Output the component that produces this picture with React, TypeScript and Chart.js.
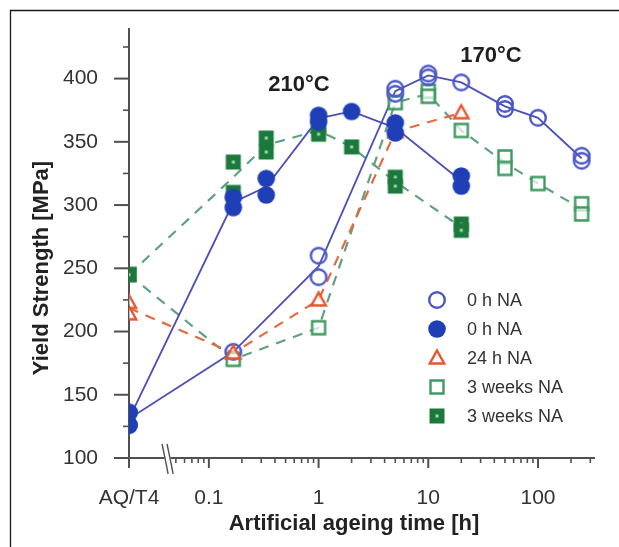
import React, { useEffect, useRef } from 'react';
import { Chart, registerables } from 'chart.js';

Chart.register(...registerables);

// ---------- data ----------
// position of the AQ/T4 state on the broken logarithmic time axis (h)
const AQ_T4 = 0.0187;
const X_MAX = 331;
const Y_MIN = 100;
const Y_MAX = 440;

const xTickValues = [AQ_T4, 0.1, 1, 10, 100];
const xTickLabels = ['AQ/T4', '0.1', '1', '10', '100'];
const xMinorTicks = [0.05, 0.06, 0.07, 0.08, 0.09, 0.2, 0.3, 0.4, 0.5, 0.6, 0.7, 0.8, 0.9,
  2, 3, 4, 5, 6, 7, 8, 9, 20, 30, 40, 50, 60, 70, 80, 90, 200, 300];
const yTickValues = [100, 150, 200, 250, 300, 350, 400];
const yMinorTicks = [125, 175, 225, 275, 325, 375, 425];
const X_BREAK = 0.042;

// 170 °C, 0 h NA (open circles)
const open0hX = [AQ_T4, AQ_T4, 0.167, 1, 1, 5, 5, 10, 10, 20, 50, 50, 100, 250, 250];
const open0hY = [136, 126, 184, 260, 243, 392, 388, 404, 401, 397, 380, 376, 369, 339, 335];

// 210 °C, 0 h NA (filled circles)
const filled0hX = [AQ_T4, AQ_T4, 0.167, 0.167, 0.333, 0.333, 1, 1, 2, 5, 5, 20, 20];
const filled0hY = [136, 126, 306, 298, 321, 308, 371, 366, 374, 365, 357, 323, 315];

// 170 °C, 24 h NA (open triangles)
const tri24hX = [AQ_T4, AQ_T4, 0.167, 1, 5, 20];
const tri24hY = [223, 214, 183, 225, 358, 373];

// 170 °C, 3 weeks NA (open squares)
const open3wX = [AQ_T4, 0.167, 1, 5, 10, 10, 20, 50, 50, 100, 250, 250];
const open3wY = [245, 178, 203, 381, 390, 386, 359, 338, 329, 317, 301, 293];

// 210 °C, 3 weeks NA (filled squares)
const filled3wX = [AQ_T4, 0.167, 0.167, 0.333, 0.333, 1, 1, 2, 5, 5, 20, 20];
const filled3wY = [245, 310, 334, 353, 342, 362, 356, 346, 322, 315, 285, 280];

const legendLabels = ['0 h NA', '0 h NA', '24 h NA', '3 weeks NA', '3 weeks NA'];

// ---------- styles ----------
const FONT = '"Liberation Sans", Arial, Helvetica, sans-serif';
const AXIS = '#505050';
const TEXT = '#333333';
const BLUE_OPEN = '#4a57c6';
const BLUE_FILL = '#1e3fb6';
const BLUE_LINE = '#4c4fb6';
const RED = '#e8552e';
const RED_LINE = '#e8683f';
const GREEN_OPEN = '#3f9a5e';
const GREEN_FILL = '#1b7a3b';
const GREEN_LINE = '#5fa184';

function pts(xs: number[], ys: number[]) {
  return xs.map((x, i) => ({ x, y: ys[i] }));
}

function meanLine(xs: number[], ys: number[]) {
  const m = new Map<number, number[]>();
  xs.forEach((x, i) => {
    if (!m.has(x)) m.set(x, []);
    m.get(x)!.push(ys[i]);
  });
  return [...m.entries()]
    .sort((a, b) => a[0] - b[0])
    .map(([x, v]) => ({ x, y: v.reduce((s, n) => s + n, 0) / v.length }));
}

function makeMarker(size: number, draw: (ctx: CanvasRenderingContext2D, c: number) => void) {
  const cv = document.createElement('canvas');
  cv.width = size;
  cv.height = size;
  const ctx = cv.getContext('2d')!;
  draw(ctx, size / 2);
  return cv;
}

function buildMarkers() {
  const openCircle = makeMarker(22, (ctx, c) => {
    ctx.strokeStyle = BLUE_OPEN;
    ctx.lineWidth = 2.4;
    ctx.beginPath();
    ctx.arc(c, c, 7.8, 0, Math.PI * 2);
    ctx.stroke();
  });
  const filledCircle = makeMarker(22, (ctx, c) => {
    ctx.fillStyle = BLUE_FILL;
    ctx.beginPath();
    ctx.arc(c, c, 8.8, 0, Math.PI * 2);
    ctx.fill();
  });
  const triangle = makeMarker(22, (ctx, c) => {
    ctx.strokeStyle = RED;
    ctx.fillStyle = 'rgba(255,255,255,0.6)';
    ctx.lineWidth = 2.4;
    ctx.beginPath();
    ctx.moveTo(c, c - 7.5);
    ctx.lineTo(c + 7.2, c + 5.5);
    ctx.lineTo(c - 7.2, c + 5.5);
    ctx.closePath();
    ctx.fill();
    ctx.stroke();
  });
  const openSquare = makeMarker(20, (ctx, c) => {
    ctx.strokeStyle = GREEN_OPEN;
    ctx.fillStyle = 'rgba(255,255,255,0.7)';
    ctx.lineWidth = 2.4;
    ctx.beginPath();
    ctx.rect(c - 6.5, c - 6.5, 13, 13);
    ctx.fill();
    ctx.stroke();
  });
  const filledSquare = makeMarker(20, (ctx, c) => {
    ctx.fillStyle = GREEN_FILL;
    ctx.fillRect(c - 7.5, c - 7.5, 15, 15);
    ctx.fillStyle = '#a9d6b1';
    ctx.fillRect(c - 1.5, c - 1.5, 3, 3);
  });
  return { openCircle, filledCircle, triangle, openSquare, filledSquare };
}

export default function App() {
  const ref = useRef<HTMLCanvasElement | null>(null);

  useEffect(() => {
    if (!ref.current) return;
    const mk = buildMarkers();
    const legendMarkers = [mk.openCircle, mk.filledCircle, mk.triangle, mk.openSquare, mk.filledSquare];

    const decor = {
      id: 'decor',
      beforeDatasetsDraw(chart: any) {
        const { ctx } = chart;
        const xs = chart.scales.x;
        const ys = chart.scales.y;
        const axisY = ys.getPixelForValue(Y_MIN);
        const axisX = xs.getPixelForValue(AQ_T4);
        ctx.save();
        // figure frame
        ctx.strokeStyle = '#1a1a1a';
        ctx.lineWidth = 1.3;
        ctx.beginPath();
        ctx.moveTo(10.5, 547);
        ctx.lineTo(10.5, 10.5);
        ctx.lineTo(619, 10.5);
        ctx.stroke();

        ctx.strokeStyle = AXIS;
        ctx.lineWidth = 2;
        ctx.lineCap = 'butt';
        // y axis (extends below as AQ/T4 tick)
        ctx.beginPath();
        ctx.moveTo(axisX, ys.getPixelForValue(Y_MAX));
        ctx.lineTo(axisX, axisY + 10);
        ctx.stroke();
        // x axis (extends left as 100 tick)
        ctx.beginPath();
        ctx.moveTo(axisX - 12, axisY);
        ctx.lineTo(xs.right, axisY);
        ctx.stroke();
        // y ticks
        yTickValues.forEach((v) => {
          const p = ys.getPixelForValue(v);
          ctx.beginPath();
          ctx.moveTo(axisX - 15, p);
          ctx.lineTo(axisX, p);
          ctx.stroke();
        });
        ctx.lineWidth = 1.6;
        yMinorTicks.forEach((v) => {
          const p = ys.getPixelForValue(v);
          ctx.beginPath();
          ctx.moveTo(axisX - 6, p);
          ctx.lineTo(axisX, p);
          ctx.stroke();
        });
        // x ticks
        ctx.lineWidth = 2;
        xTickValues.slice(1).forEach((v) => {
          const p = xs.getPixelForValue(v);
          ctx.beginPath();
          ctx.moveTo(p, axisY);
          ctx.lineTo(p, axisY + 10);
          ctx.stroke();
        });
        ctx.lineWidth = 1.6;
        xMinorTicks.forEach((v) => {
          const p = xs.getPixelForValue(v);
          ctx.beginPath();
          ctx.moveTo(p, axisY);
          ctx.lineTo(p, axisY + 5);
          ctx.stroke();
        });
        // axis break
        const bp = xs.getPixelForValue(X_BREAK);
        ctx.fillStyle = '#ffffff';
        ctx.fillRect(bp - 3, axisY - 3, 6, 6);
        ctx.strokeStyle = AXIS;
        ctx.lineWidth = 1.4;
        [-2.5, 2.5].forEach((d) => {
          ctx.beginPath();
          ctx.moveTo(bp + d - 3, axisY - 14);
          ctx.bezierCurveTo(bp + d - 1, axisY - 4, bp + d + 1, axisY + 4, bp + d + 3, axisY + 16);
          ctx.stroke();
        });

        // temperature labels
        ctx.fillStyle = '#1e1e1e';
        ctx.font = `bold 22px ${FONT}`;
        ctx.textAlign = 'center';
        ctx.textBaseline = 'middle';
        ctx.fillText('210°C', 299, 85);
        ctx.fillText('170°C', 491, 56);

        // axis titles
        ctx.fillStyle = '#222222';
        ctx.font = `bold 22px ${FONT}`;
        ctx.fillText('Artificial ageing time [h]', 354, 524);
        ctx.save();
        ctx.translate(42, 268);
        ctx.rotate(-Math.PI / 2);
        ctx.fillText('Yield Strength [MPa]', 0, 0);
        ctx.restore();
        ctx.restore();
      },
      afterDraw(chart: any) {
        const { ctx } = chart;
        ctx.save();
        ctx.font = `18px ${FONT}`;
        ctx.fillStyle = TEXT;
        ctx.textAlign = 'left';
        ctx.textBaseline = 'middle';
        legendLabels.forEach((label, i) => {
          const yy = 300 + i * 29;
          const m = legendMarkers[i];
          ctx.drawImage(m, 437 - m.width / 2, yy - m.height / 2);
          ctx.fillText(label, 467, yy + 1);
        });
        ctx.restore();
      },
    };

    const lineDs = (data: any, color: string, dash: number[], width: number) => ({
      type: 'scatter' as const,
      data,
      showLine: true,
      borderColor: color,
      borderWidth: width,
      borderDash: dash,
      pointRadius: 0,
      pointHoverRadius: 0,
      fill: false,
      order: 10,
    });
    const markDs = (data: any, style: any, order: number) => ({
      type: 'scatter' as const,
      data,
      showLine: false,
      pointStyle: style,
      pointRadius: 9,
      pointHoverRadius: 9,
      order,
    });

    const chart = new Chart(ref.current, {
      type: 'scatter',
      data: {
        datasets: [
          lineDs(meanLine(open0hX, open0hY), BLUE_LINE, [], 1.8),
          lineDs(meanLine(filled0hX, filled0hY), BLUE_LINE, [], 1.8),
          lineDs(meanLine(tri24hX, tri24hY), RED_LINE, [10, 8], 2.2),
          lineDs(meanLine(open3wX, open3wY), GREEN_LINE, [10, 8], 2.2),
          lineDs(meanLine(filled3wX, filled3wY), GREEN_LINE, [10, 8], 2.2),
          markDs(pts(open3wX, open3wY), mk.openSquare, 5),
          markDs(pts(filled3wX, filled3wY), mk.filledSquare, 4),
          markDs(pts(open0hX, open0hY), mk.openCircle, 3),
          markDs(pts(tri24hX, tri24hY), mk.triangle, 2),
          markDs(pts(filled0hX, filled0hY), mk.filledCircle, 1),
        ] as any,
      },
      plugins: [decor],
      options: {
        animation: false,
        responsive: false,
        events: [],
        layout: { padding: { top: 28, right: 24, left: 0, bottom: 0 } },
        plugins: {
          legend: { display: false },
          tooltip: { enabled: false },
        },
        scales: {
          x: {
            type: 'logarithmic',
            min: AQ_T4,
            max: X_MAX,
            bounds: 'data',
            grid: { display: false, drawTicks: false },
            border: { display: false },
            afterBuildTicks: (scale: any) => {
              scale.ticks = xTickValues.map((v) => ({ value: v }));
            },
            afterFit: (scale: any) => {
              scale.height = 89;
              scale.paddingLeft = 0;
              scale.paddingRight = 0;
            },
            ticks: {
              autoSkip: false,
              maxRotation: 0,
              padding: 28,
              color: TEXT,
              font: { family: FONT, size: 21 },
              callback: (_v: any, i: number) => xTickLabels[i],
            },
          },
          y: {
            type: 'linear',
            min: Y_MIN,
            max: Y_MAX,
            grid: { display: false, drawTicks: false },
            border: { display: false },
            afterBuildTicks: (scale: any) => {
              scale.ticks = yTickValues.map((v) => ({ value: v }));
            },
            afterFit: (scale: any) => {
              scale.width = 129;
              scale.paddingTop = 0;
              scale.paddingBottom = 0;
            },
            ticks: {
              padding: 31,
              color: TEXT,
              font: { family: FONT, size: 21 },
              callback: (v: any) => String(v),
            },
          },
        },
      } as any,
    });
    return () => chart.destroy();
  }, []);

  return (
    <div style={{ position: 'absolute', left: 0, top: 0, width: 619, height: 547, background: '#ffffff' }}>
      <canvas ref={ref} width={619} height={547} style={{ width: 619, height: 547, display: 'block' }} />
    </div>
  );
}
